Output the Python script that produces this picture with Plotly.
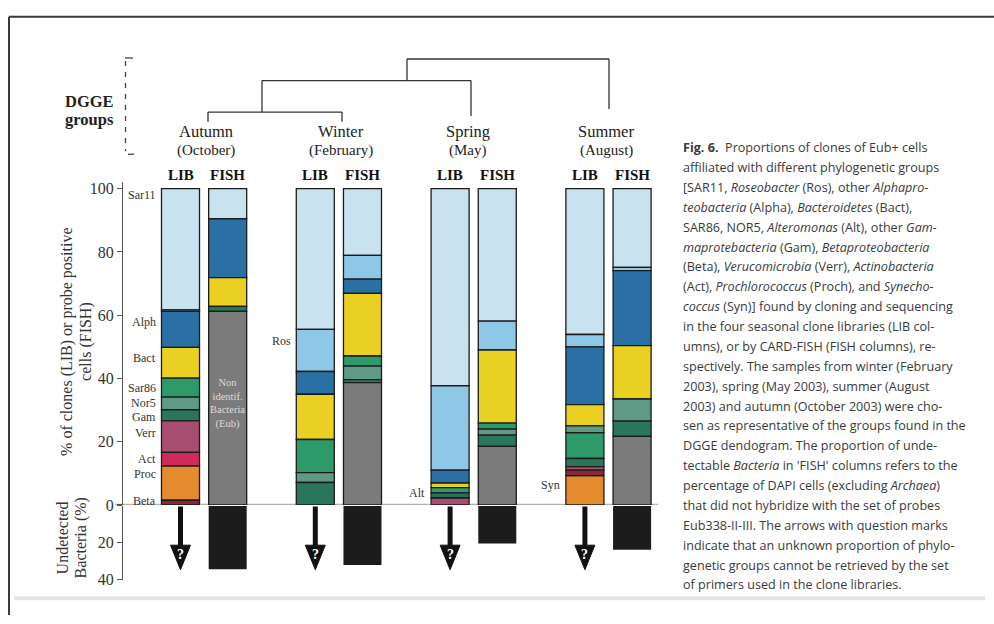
import plotly.graph_objects as go

# ---------------------------------------------------------------- data
seasons = ["Autumn", "Winter", "Spring", "Summer"]
months = ["(October)", "(February)", "(May)", "(August)"]
methods = ["LIB", "FISH"]

# Composition of each column, listed bottom to top (% of clones / probe positive cells)
autumn_lib_groups = ["Beta", "Proc", "Act", "Verr", "Gam", "Nor5", "Sar86", "Bact", "Alph", "Ros", "Sar11"]
autumn_lib_values = [1.5, 10.8, 4.3, 10.0, 3.5, 4.0, 6.0, 9.7, 11.4, 0.5, 38.3]
autumn_fish_groups = ["Eub", "Gam", "Bact", "Alph", "Sar11"]
autumn_fish_values = [61.2, 1.6, 9.1, 18.6, 9.5]

winter_lib_groups = ["Gam", "Nor5", "Sar86", "Bact", "Alph", "Ros", "Sar11"]
winter_lib_values = [7.1, 3.1, 10.5, 14.3, 7.2, 13.3, 44.5]
winter_fish_groups = ["Eub", "Gam", "Nor5", "Sar86", "Bact", "Alph", "Ros", "Sar11"]
winter_fish_values = [38.7, 0.9, 4.3, 3.2, 19.8, 4.5, 7.5, 21.1]

spring_lib_groups = ["Verr", "Alt", "Sar86", "Bact", "Alph", "Ros", "Sar11"]
spring_lib_values = [2.2, 1.6, 1.7, 1.4, 4.1, 26.7, 62.3]
spring_fish_groups = ["Eub", "Gam", "Nor5", "Sar86", "Bact", "Ros", "Sar11"]
spring_fish_values = [18.5, 3.6, 1.9, 1.9, 23.1, 9.1, 41.9]

summer_lib_groups = ["Syn", "Beta", "Verr", "Gam", "Sar86", "Nor5", "Bact", "Alph", "Ros", "Sar11"]
summer_lib_values = [9.3, 1.7, 1.1, 2.6, 8.2, 2.1, 6.7, 18.3, 3.9, 46.1]
summer_fish_groups = ["Eub", "Gam", "Nor5", "Bact", "Alph", "Ros", "Sar11"]
summer_fish_values = [21.7, 4.8, 7.0, 16.9, 23.7, 1.0, 24.9]

# Undetected Bacteria (%) below the FISH columns
undetected_fish = [34.4, 32.0, 20.4, 23.8]

# Group names written beside the LIB columns
autumn_tags = ["Sar11", "Alph", "Bact", "Sar86", "Nor5", "Gam", "Verr", "Act", "Proc", "Beta"]
winter_tags = ["Ros"]
spring_tags = ["Alt"]
summer_tags = ["Syn"]

caption_lines = [
    "<b>Fig. 6.</b>  Proportions of clones of Eub+ cells",
    "affiliated with different phylogenetic groups",
    "[SAR11, <i>Roseobacter</i> (Ros), other <i>Alphapro-</i>",
    "<i>teobacteria</i> (Alpha), <i>Bacteroidetes</i> (Bact),",
    "SAR86, NOR5, <i>Alteromonas</i> (Alt), other <i>Gam-</i>",
    "<i>maprotebacteria</i> (Gam), <i>Betaproteobacteria</i>",
    "(Beta), <i>Verucomicrobia</i> (Verr), <i>Actinobacteria</i>",
    "(Act), <i>Prochlorococcus</i> (Proch), and <i>Synecho-</i>",
    "<i>coccus</i> (Syn)] found by cloning and sequencing",
    "in the four seasonal clone libraries (LIB col-",
    "umns), or by CARD-FISH (FISH columns), re-",
    "spectively. The samples from winter (February",
    "2003), spring (May 2003), summer (August",
    "2003) and autumn (October 2003) were cho-",
    "sen as representative of the groups found in the",
    "DGGE dendogram. The proportion of unde-",
    "tectable <i>Bacteria</i> in 'FISH' columns refers to the",
    "percentage of DAPI cells (excluding <i>Archaea</i>)",
    "that did not hybridize with the set of probes",
    "Eub338-II-III. The arrows with question marks",
    "indicate that an unknown proportion of phylo-",
    "genetic groups cannot be retrieved by the set",
    "of primers used in the clone libraries.",
]

# ---------------------------------------------------------------- styling
W, H = 994, 624
SERIF = "Liberation Serif, Times New Roman, serif"
SANS = "Open Sans, Noto Sans, sans-serif"
INK = "#333333"

group_colors = {
    "Sar11": "#c9e2ef", "Ros": "#8fc8e6", "Alph": "#2b70a4", "Bact": "#ebd024",
    "Sar86": "#2f9a69", "Nor5": "#5e9a86", "Gam": "#2a765b", "Alt": "#27705a",
    "Verr": "#a74d70", "Act": "#d02a5b", "Proc": "#e48b2e", "Syn": "#e48b2e",
    "Beta": "#8a2832", "Eub": "#7b7b7b",
}
method_offset = {"LIB": 0.0, "FISH": 0.35}
bar_width = 0.282


def px_x(p):
    """Horizontal pixel -> x data units (LIB of Autumn at 0, one season per unit)."""
    return (p - 180.5) / 134.8


def py_paper(p):
    return (H - p) / H


def note(**kw):
    base = dict(showarrow=False, xanchor="center", yanchor="middle")
    base.update(kw)
    return base


columns = [
    (0, "LIB", autumn_lib_groups, autumn_lib_values),
    (0, "FISH", autumn_fish_groups, autumn_fish_values),
    (1, "LIB", winter_lib_groups, winter_lib_values),
    (1, "FISH", winter_fish_groups, winter_fish_values),
    (2, "LIB", spring_lib_groups, spring_lib_values),
    (2, "FISH", spring_fish_groups, spring_fish_values),
    (3, "LIB", summer_lib_groups, summer_lib_values),
    (3, "FISH", summer_fish_groups, summer_fish_values),
]

# stack each column from its own bottom-to-top order
segments = {g: {"x": [], "y": [], "base": []} for g in group_colors}
for season_idx, method, groups, values in columns:
    xpos = season_idx + method_offset[method]
    cum = 0.0
    for g, v in zip(groups, values):
        segments[g]["x"].append(xpos)
        segments[g]["y"].append(v)
        segments[g]["base"].append(cum)
        cum += v

fig = go.Figure()
for g, seg in segments.items():
    if not seg["x"]:
        continue
    fig.add_trace(go.Bar(
        x=seg["x"], y=seg["y"], base=seg["base"], width=bar_width,
        name=g, showlegend=False, xaxis="x", yaxis="y",
        marker=dict(color=group_colors[g], line=dict(color="#1b1b1b", width=1.3)),
    ))

fig.add_trace(go.Bar(
    x=[i + method_offset["FISH"] for i in range(len(seasons))],
    y=undetected_fish, base=[0] * len(undetected_fish), width=bar_width,
    name="Undetected", showlegend=False, xaxis="x", yaxis="y2",
    marker=dict(color="#1c1c1c", line=dict(width=0)),
))

shapes = []
annotations = []

# frame and bottom rule
shapes.append(dict(type="line", xref="paper", yref="paper", x0=9 / W, x1=1.0,
                   y0=py_paper(15), y1=py_paper(15), line=dict(color="#3a3a3a", width=2)))
shapes.append(dict(type="line", xref="paper", yref="paper", x0=9 / W, x1=9 / W,
                   y0=py_paper(15), y1=0, line=dict(color="#3a3a3a", width=2)))
shapes.append(dict(type="line", xref="paper", yref="paper", x0=14 / W, x1=985 / W,
                   y0=py_paper(607), y1=py_paper(607), line=dict(color="#e4e4e4", width=4)))

# separator at 0
shapes.append(dict(type="line", xref="paper", yref="y", x0=115 / W, x1=658 / W,
                   y0=0, y1=0, line=dict(color="#b3b3b3", width=2.5), layer="below"))

# arrows with question marks below the LIB columns
for i in range(len(seasons)):
    x = i + method_offset["LIB"]
    shapes.append(dict(type="line", xref="x", yref="y2", x0=x, x1=x, y0=0.3, y1=21.6,
                       line=dict(color="#111111", width=5)))
    hw = 0.074
    shapes.append(dict(type="path", xref="x", yref="y2",
                       path=f"M {x - hw},21.3 L {x + hw},21.3 L {x},34.6 Z",
                       fillcolor="#111111", line=dict(color="#111111", width=1)))
    annotations.append(note(x=x, y=26.2, xref="x", yref="y2", text="<b>?</b>",
                            font=dict(family=SERIF, size=14, color="white")))

# dendrogram of DGGE groups
leaf_x = [px_x(p) for p in (208, 342, 471, 609)]
label_x = [px_x(p) for p in (206, 341, 468, 606)]
node1_x, node2_x = px_x(262), px_x(407)
dendro = [
    (leaf_x[0], 112, leaf_x[0], 122), (leaf_x[1], 112, leaf_x[1], 122),
    (leaf_x[0], 112, leaf_x[1], 112), (node1_x, 80, node1_x, 112),
    (node1_x, 80, leaf_x[2], 80), (leaf_x[2], 80, leaf_x[2], 116),
    (node2_x, 58, node2_x, 80), (node2_x, 58, leaf_x[3], 58),
    (leaf_x[3], 58, leaf_x[3], 109),
]
for x0, y0, x1, y1 in dendro:
    shapes.append(dict(type="line", xref="x", yref="paper", x0=x0, x1=x1,
                       y0=py_paper(y0), y1=py_paper(y1), line=dict(color="#333333", width=1.3)))

# dashed bracket beside "DGGE groups"
shapes.append(dict(type="line", xref="paper", yref="paper", x0=125.5 / W, x1=125.5 / W,
                   y0=py_paper(60), y1=py_paper(152), line=dict(color="#444", width=1.3, dash="5px,6px")))
shapes.append(dict(type="line", xref="paper", yref="paper", x0=125 / W, x1=133 / W,
                   y0=py_paper(57), y1=py_paper(57), line=dict(color="#444", width=1.3)))
shapes.append(dict(type="line", xref="paper", yref="paper", x0=128 / W, x1=134 / W,
                   y0=py_paper(155), y1=py_paper(155), line=dict(color="#444", width=1.3)))
for txt, yy in (("DGGE", 101), ("groups", 120)):
    annotations.append(note(x=89 / W, y=py_paper(yy), xref="paper", yref="paper",
                            text=f"<b>{txt}</b>", font=dict(family=SERIF, size=16.5, color="#222")))

# season / month headings and column headers
for i, (s, m) in enumerate(zip(seasons, months)):
    annotations.append(note(x=label_x[i], y=py_paper(132), xref="x", yref="paper", text=s,
                            font=dict(family=SERIF, size=16.5, color="#222")))
    annotations.append(note(x=label_x[i], y=py_paper(151), xref="x", yref="paper", text=m,
                            font=dict(family=SERIF, size=15, color="#222")))
    for meth in methods:
        annotations.append(note(x=i + method_offset[meth], y=py_paper(176), xref="x", yref="paper",
                                text=f"<b>{meth}</b>", font=dict(family=SERIF, size=15, color="#111")))

# group names beside LIB columns
tag_y = {"Sar11": 98.1, "Alph": 57.8, "Bact": 46.6, "Sar86": 37.0, "Nor5": 32.1, "Gam": 27.7,
         "Verr": 22.8, "Act": 14.6, "Proc": 9.9, "Beta": 1.2, "Ros": 51.9, "Alt": 3.7, "Syn": 6.2}
for i, tags in enumerate([autumn_tags, winter_tags, spring_tags, summer_tags]):
    for t in tags:
        annotations.append(note(x=i - bar_width / 2 - 0.028, y=tag_y[t], xref="x", yref="y",
                                text=t, xanchor="right",
                                font=dict(family=SERIF, size=12, color=INK)))

annotations.append(note(x=method_offset["FISH"], y=py_paper(409), xref="x", yref="paper",
                        text="Non<br>identif.<br>Bacteria<br>(Eub)",
                        font=dict(family=SERIF, size=10.5, color="#dcdcdc")))

# axis titles, one rotated line at a time
for txt, xx, yy in (("% of clones (LIB) or probe positive", 67, 346), ("cells (FISH)", 86, 346),
                    ("Undetected", 62, 546), ("Bacteria (%)", 81, 546)):
    annotations.append(note(x=xx / W, y=py_paper(yy), xref="paper", yref="paper", textangle=-90,
                            text=txt, font=dict(family=SERIF, size=16, color=INK)))

# caption
for k, line in enumerate(caption_lines):
    annotations.append(note(x=681 / W, y=py_paper(148.3 + 20.23 * k), xref="paper", yref="paper",
                            text=line, xanchor="left",
                            font=dict(family=SANS, size=12.6, color="#3a3a3a")))

axis_style = dict(showgrid=False, zeroline=False, showline=True, linecolor="#555", linewidth=1,
                  ticks="outside", ticklen=5, tickcolor="#555",
                  tickfont=dict(family=SERIF, size=16, color=INK))

fig.update_layout(
    width=W, height=H, autosize=False, margin=dict(l=0, r=0, t=0, b=0, pad=0),
    paper_bgcolor="white", plot_bgcolor="white", barmode="overlay", showlegend=False,
    xaxis=dict(domain=[123 / W, 660 / W], range=[px_x(123), px_x(660)], visible=False, anchor="y"),
    yaxis=dict(domain=[py_paper(512), py_paper(183.6)], range=[0, 102],
               tickvals=[0, 20, 40, 60, 80, 100], anchor="x", **axis_style),
    yaxis2=dict(domain=[py_paper(588), py_paper(513)], range=[40, 0],
                tickvals=[0, 20, 40], ticktext=["", "20", "40"], anchor="x", **axis_style),
    shapes=shapes, annotations=annotations,
)

fig.write_html("out.html", config={"responsive": False, "displayModeBar": False})
